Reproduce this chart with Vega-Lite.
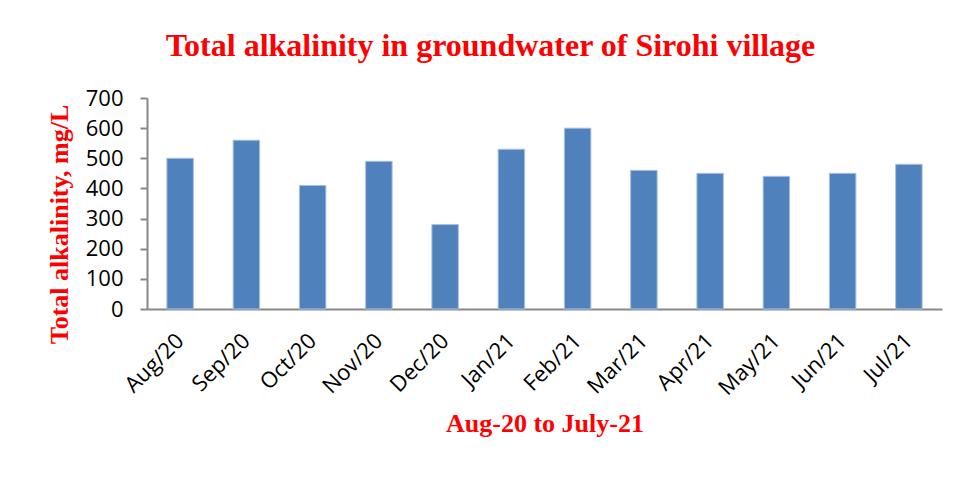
{
  "$schema": "https://vega.github.io/schema/vega-lite/v6.json",
  "width": 795,
  "height": 211,
  "autosize": {"type": "none"},
  "padding": {"left": 147, "top": 98, "right": 16, "bottom": 168},
  "background": "white",
  "title": {
    "text": "Total alkalinity in groundwater of Sirohi village",
    "font": "Liberation Serif",
    "fontSize": 32,
    "fontWeight": "bold",
    "color": "#FF0000",
    "anchor": "middle",
    "frame": "group",
    "dx": -54,
    "offset": 24
  },
  "data": {
    "values": [
      {"month": "Aug/20", "alkalinity": 500},
      {"month": "Sep/20", "alkalinity": 560},
      {"month": "Oct/20", "alkalinity": 410},
      {"month": "Nov/20", "alkalinity": 490},
      {"month": "Dec/20", "alkalinity": 280},
      {"month": "Jan/21", "alkalinity": 530},
      {"month": "Feb/21", "alkalinity": 600},
      {"month": "Mar/21", "alkalinity": 460},
      {"month": "Apr/21", "alkalinity": 450},
      {"month": "May/21", "alkalinity": 440},
      {"month": "Jun/21", "alkalinity": 450},
      {"month": "Jul/21", "alkalinity": 480}
    ]
  },
  "mark": {"type": "bar", "color": "#4F81BD", "stroke": "#A9C1E0", "strokeWidth": 1},
  "encoding": {
    "x": {
      "field": "month",
      "type": "nominal",
      "sort": null,
      "scale": {"paddingInner": 0.6, "paddingOuter": 0.3},
      "axis": {
        "title": "Aug-20 to July-21",
        "titleFont": "Liberation Serif",
        "titleFontSize": 26,
        "titleFontWeight": "bold",
        "titleColor": "#FF0000",
        "titlePadding": 12,
        "labelAngle": -45,
        "labelAlign": "right",
        "labelBaseline": "middle",
        "labelFont": "Open Sans",
        "labelFontSize": 22,
        "labelColor": "#000000",
        "labelPadding": 28,
        "ticks": false,
        "domainColor": "#888888",
        "domainWidth": 2
      }
    },
    "y": {
      "field": "alkalinity",
      "type": "quantitative",
      "scale": {"domain": [0, 700], "nice": false},
      "axis": {
        "title": "Total alkalinity, mg/L",
        "titleFont": "Liberation Serif",
        "titleFontSize": 26,
        "titleFontWeight": "bold",
        "titleColor": "#FF0000",
        "titleAngle": -90,
        "titleAlign": "center",
        "titleBaseline": "middle",
        "titleX": -88,
        "titleY": 126,
        "values": [0, 100, 200, 300, 400, 500, 600, 700],
        "grid": false,
        "labelFont": "Open Sans",
        "labelFontSize": 22,
        "labelColor": "#000000",
        "labelPadding": 17,
        "tickSize": 7,
        "tickColor": "#888888",
        "tickWidth": 2,
        "domainColor": "#888888",
        "domainWidth": 2
      }
    }
  },
  "config": {"view": {"stroke": null}}
}
